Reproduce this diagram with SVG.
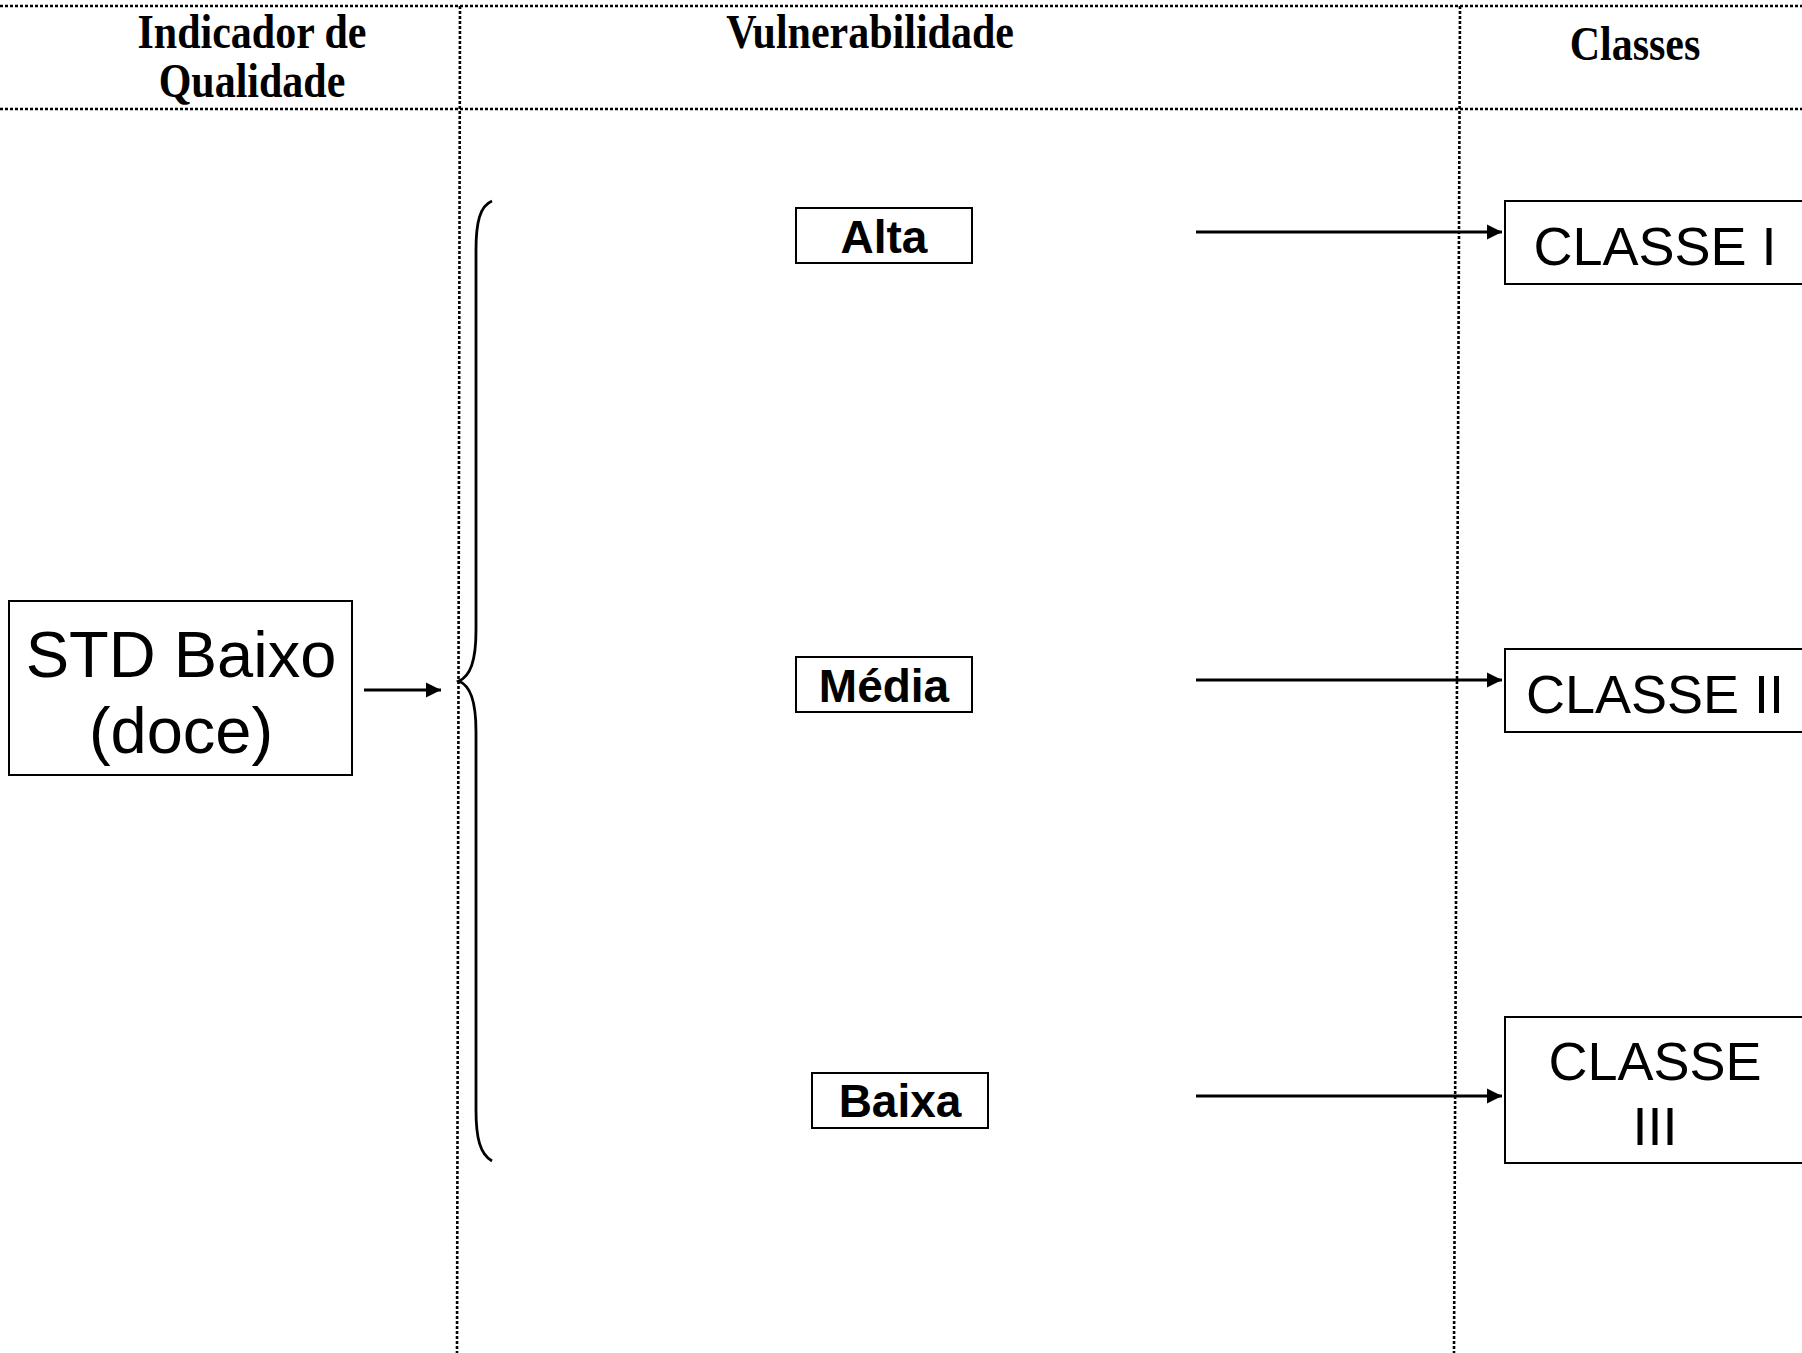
<svg xmlns="http://www.w3.org/2000/svg" width="1802" height="1353" viewBox="0 0 1802 1353">
  <style>
    .grid { stroke: #000; stroke-width: 2.6; stroke-dasharray: 3 2; fill: none; }
    .head { font-family: "Liberation Serif", "Times New Roman", serif; font-weight: bold; font-size: 42px; fill: #000; text-anchor: middle; }
    .box { fill: #fff; stroke: #000; stroke-width: 2; }
    .lvl { font-family: "Liberation Sans", Arial, sans-serif; font-weight: bold; font-size: 46px; fill: #000; text-anchor: middle; }
    .big { font-family: "Liberation Sans", Arial, sans-serif; font-size: 54px; fill: #000; text-anchor: middle; }
    .std { font-family: "Liberation Sans", Arial, sans-serif; font-size: 65px; fill: #000; text-anchor: middle; }
    .conn { stroke: #000; stroke-width: 2.8; fill: none; }
  </style>
  <defs>
    <marker id="arrow" viewBox="0 0 10 10" refX="10" refY="5" markerWidth="5.5" markerHeight="5.5" markerUnits="strokeWidth" orient="auto">
      <path d="M0,0 L10,5 L0,10 z" fill="#000"/>
    </marker>
  </defs>

  <rect width="1802" height="1353" fill="#fff"/>

  <!-- table grid -->
  <g id="grid">
    <line class="grid" x1="0" y1="6" x2="1802" y2="6"/>
    <line class="grid" x1="0" y1="109" x2="1802" y2="109"/>
    <line class="grid" x1="460" y1="6" x2="457" y2="1353"/>
    <line class="grid" x1="1460" y1="6" x2="1454" y2="1353"/>
  </g>

  <!-- column headers -->
  <g id="headers">
    <g transform="translate(252,0) scale(1,1.14)">
      <text class="head" x="0" y="42">Indicador de</text>
      <text class="head" x="0" y="85">Qualidade</text>
    </g>
    <g transform="translate(870,0) scale(1,1.14)">
      <text class="head" x="0" y="42">Vulnerabilidade</text>
    </g>
    <g transform="translate(1635,0) scale(1,1.14)">
      <text class="head" x="0" y="53">Classes</text>
    </g>
  </g>

  <!-- source -->
  <g id="std-baixo">
    <rect class="box" x="9" y="601" width="343" height="174"/>
    <text class="std" x="181" y="677">STD Baixo</text>
    <text class="std" x="181" y="753">(doce)</text>
  </g>

  <!-- brace grouping the vulnerability levels -->
  <g id="brace">
    <path class="conn" stroke-width="2.2" d="M492,201 C480,206 476,222 476,250 L476,630 C476,662 470,676 459,681 C470,686 476,700 476,732 L476,1110 C476,1138 480,1154 492,1161"/>
  </g>

  <!-- vulnerability levels -->
  <g id="alta">
    <rect class="box" x="796" y="208" width="176" height="55"/>
    <text class="lvl" x="884" y="253">Alta</text>
  </g>
  <g id="media">
    <rect class="box" x="796" y="657" width="176" height="55"/>
    <text class="lvl" x="884" y="702">Média</text>
  </g>
  <g id="baixa">
    <rect class="box" x="812" y="1073" width="176" height="55"/>
    <text class="lvl" x="900" y="1117">Baixa</text>
  </g>

  <!-- classes -->
  <g id="classe-1">
    <rect class="box" x="1505" y="201" width="310" height="83"/>
    <text class="big" x="1655" y="265">CLASSE I</text>
  </g>
  <g id="classe-2">
    <rect class="box" x="1505" y="649" width="310" height="83"/>
    <text class="big" x="1655" y="713">CLASSE II</text>
  </g>
  <g id="classe-3">
    <rect class="box" x="1505" y="1017" width="310" height="146"/>
    <text class="big" x="1655" y="1080">CLASSE</text>
    <text class="big" x="1655" y="1145">III</text>
  </g>

  <!-- connectors -->
  <g id="connectors">
    <line class="conn" x1="364" y1="690" x2="441" y2="690" stroke-width="2.2" marker-end="url(#arrow)"/>
    <line class="conn" x1="1196" y1="232" x2="1502" y2="232" marker-end="url(#arrow)"/>
    <line class="conn" x1="1196" y1="680" x2="1502" y2="680" marker-end="url(#arrow)"/>
    <line class="conn" x1="1196" y1="1096" x2="1502" y2="1096" marker-end="url(#arrow)"/>
  </g>
</svg>
